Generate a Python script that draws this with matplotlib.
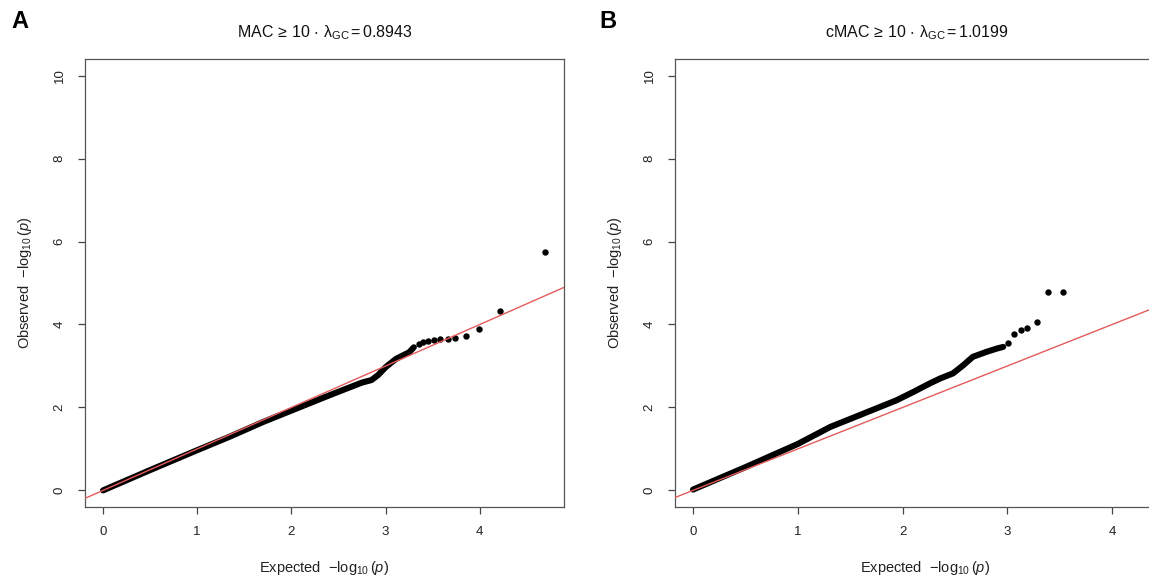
import numpy as np
import matplotlib.pyplot as plt

plt.rcParams['font.family'] = ['Liberation Sans', 'DejaVu Sans']
plt.rcParams['mathtext.fontset'] = 'custom'
plt.rcParams['mathtext.rm'] = 'Liberation Sans'
plt.rcParams['mathtext.it'] = 'Liberation Sans:italic'
plt.rcParams['mathtext.bf'] = 'Liberation Sans:bold'
plt.rcParams['mathtext.default'] = 'regular'

# panel A: dense body (read along the band) and separated tail points
a_body_x = [0.0, 0.5, 1.0, 1.34, 1.70, 2.05, 2.40, 2.58, 2.75, 2.85, 2.92, 3.00, 3.11, 3.25, 3.30]
a_body_y = [0.0, 0.49, 0.97, 1.29, 1.65, 1.97, 2.29, 2.45, 2.60, 2.66, 2.78, 2.97, 3.17, 3.33, 3.45]
a_tail_x = [3.35, 3.40, 3.45, 3.51, 3.58, 3.66, 3.74, 3.85, 3.99, 4.21, 4.69]
a_tail_y = [3.53, 3.57, 3.61, 3.63, 3.65, 3.65, 3.67, 3.72, 3.88, 4.33, 5.74]

# panel B
b_body_x = [0.0, 0.5, 1.0, 1.31, 1.625, 1.94, 2.10, 2.26, 2.36, 2.48, 2.58, 2.67, 2.80, 2.90, 2.96]
b_body_y = [0.02, 0.56, 1.12, 1.53, 1.85, 2.17, 2.37, 2.58, 2.70, 2.82, 3.02, 3.22, 3.34, 3.42, 3.46]
b_tail_x = [3.01, 3.06, 3.13, 3.19, 3.28, 3.39, 3.53]
b_tail_y = [3.56, 3.77, 3.86, 3.91, 4.07, 4.79, 4.79]

titles = [r'MAC$\,\geq\,$10$\,\cdot\,\lambda_{GC}\,$=$\,$0.8943',
          r'cMAC$\,\geq\,$10$\,\cdot\,\lambda_{GC}\,$=$\,$1.0199']
title_x = [325, 917]
letters = ['A', 'B']
W, H = 1149, 579
# axes boxes in pixels: left, right, top, bottom  (B runs past the picture edge)
boxes = [(85, 564, 59, 507), (675, 1175, 59, 507)]
px_per_unit = [94.2, 104.8]
zero_px = [103, 693]

fig = plt.figure(figsize=(W/100, H/100), dpi=100)
data = [(a_body_x, a_body_y, a_tail_x, a_tail_y), (b_body_x, b_body_y, b_tail_x, b_tail_y)]
for i in range(2):
    l, r, t, b = boxes[i]
    ax = fig.add_axes([l/W, (H-b)/H, (r-l)/W, (b-t)/H])
    bx, by, tx, ty = data[i]
    ax.plot(bx, by, color='black', lw=4.4, solid_capstyle='round', solid_joinstyle='round', zorder=2)
    ax.plot(tx, ty, 'o', color='black', ms=4.6, mec='none', zorder=2)
    ax.axline((0, 0), slope=1, color='#e35b5b', lw=1.0, zorder=3)
    ax.set_xlim((l - zero_px[i])/px_per_unit[i], (r - zero_px[i])/px_per_unit[i])
    ax.set_ylim(-0.4, 10.4)
    ax.set_xticks([0, 1, 2, 3, 4])
    ax.set_yticks([0, 2, 4, 6, 8, 10])
    ax.tick_params(direction='out', length=5, width=0.9, color='#444444',
                   labelsize=9.5, labelcolor='#222222', pad=9)
    for lab in ax.get_yticklabels():
        lab.set_rotation(90)
        lab.set_va('center')
    for s in ax.spines.values():
        s.set_color('#555555')
        s.set_linewidth(0.9)
    ax.set_xlabel(r'Expected  $-\log_{10}(\mathit{p})$', fontsize=10.5, labelpad=15, color='#222222')
    ax.set_ylabel(r'Observed  $-\log_{10}(\mathit{p})$', fontsize=10.5, labelpad=14, color='#222222')
    fig.text(title_x[i]/W, 1 - 33/H, titles[i], fontsize=11.5, ha='center', va='center', color='#111111')
    fig.text([20, 608][i]/W, 1 - 22/H, letters[i], fontsize=17, fontweight='bold',
             ha='center', va='center')

fig.savefig('out.png', dpi=100)
